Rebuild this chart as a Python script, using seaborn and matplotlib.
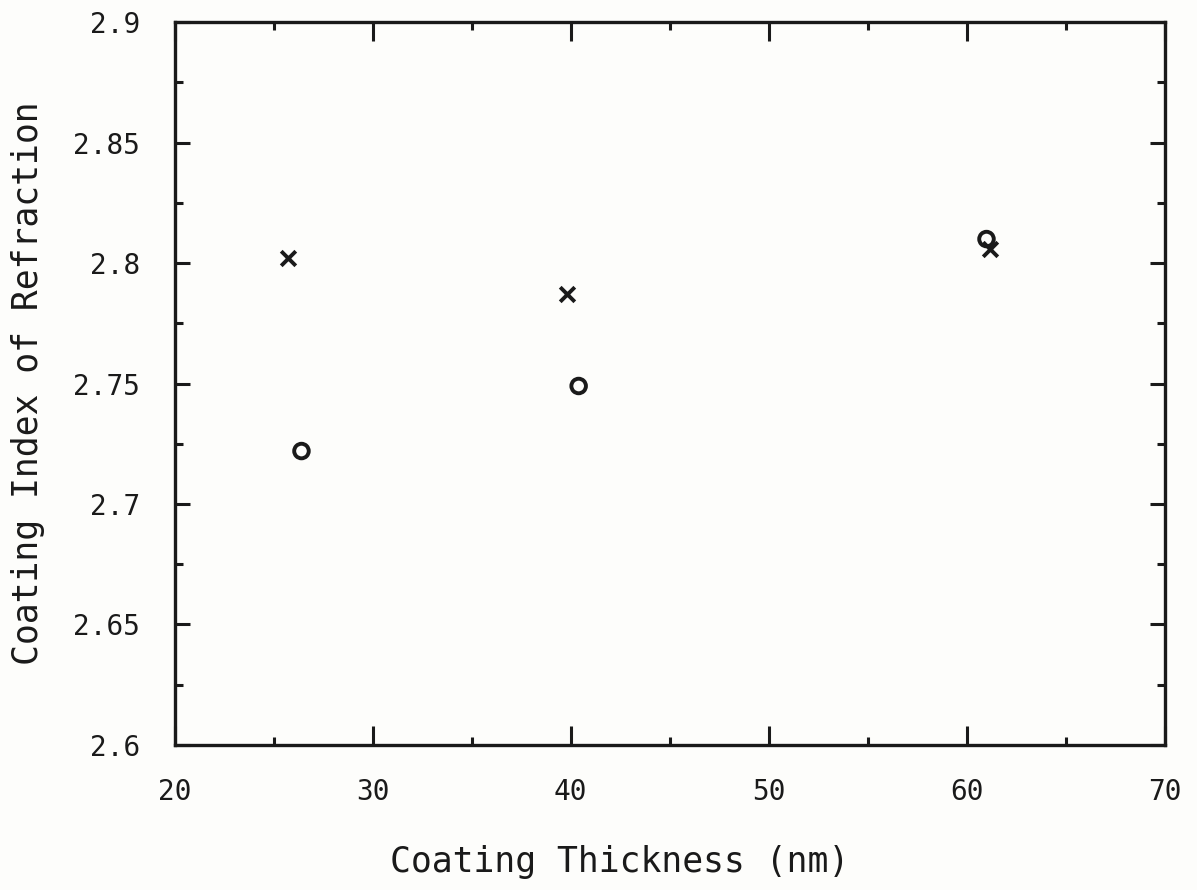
import matplotlib
matplotlib.use("Agg")
import matplotlib.pyplot as plt
import seaborn as sns
import pandas as pd
from matplotlib.ticker import MultipleLocator

# Data
x_series_thickness = [25.7, 39.8, 61.2]
x_series_index = [2.802, 2.787, 2.806]
o_series_thickness = [26.4, 40.4, 61.0]
o_series_index = [2.722, 2.749, 2.810]
x_ticks = [20, 30, 40, 50, 60, 70]
y_ticks = [2.6, 2.65, 2.7, 2.75, 2.8, 2.85, 2.9]
y_tick_labels = ["2.6", "2.65", "2.7", "2.75", "2.8", "2.85", "2.9"]

df = pd.DataFrame({
    "thickness": x_series_thickness + o_series_thickness,
    "index": x_series_index + o_series_index,
    "series": ["x"] * len(x_series_thickness) + ["o"] * len(o_series_thickness),
})

sns.set_theme(style="white")
plt.rcParams["font.family"] = ["DejaVu Sans Mono", "DejaVu Sans"]

ink = "#1a1a1a"
fig = plt.figure(figsize=(11.97, 8.90), dpi=100)
fig.patch.set_facecolor("#fdfdfb")
ax = fig.add_axes([0.146, 0.163, 0.827, 0.812])
ax.set_facecolor("#fdfdfb")

sx = df[df.series == "x"]
so = df[df.series == "o"]
sns.scatterplot(data=sx, x="thickness", y="index", marker="x", s=110,
                color=ink, linewidth=2.8, ax=ax, legend=False)
sns.scatterplot(data=so, x="thickness", y="index", marker="o", s=110,
                facecolor="none", edgecolor=ink, linewidth=2.8, ax=ax, legend=False)

ax.set_xlim(20, 70)
ax.set_ylim(2.6, 2.9)
ax.set_xticks(x_ticks)
ax.set_yticks(y_ticks)
ax.set_yticklabels(y_tick_labels)
ax.xaxis.set_minor_locator(MultipleLocator(5))
ax.yaxis.set_minor_locator(MultipleLocator(0.025))
ax.tick_params(which="both", direction="in", width=2.2, colors=ink,
               top=True, right=True, bottom=True, left=True)
ax.tick_params(axis="x", which="major", length=14, labelsize=20, pad=24)
ax.tick_params(axis="x", which="minor", length=6)
ax.tick_params(axis="y", which="major", length=11, labelsize=20, pad=25)
ax.tick_params(axis="y", which="minor", length=6)
for sp in ax.spines.values():
    sp.set_visible(True)
    sp.set_linewidth(2.4)
    sp.set_color(ink)

ax.set_xlabel("Coating Thickness (nm)", fontsize=25, color=ink)
ax.xaxis.set_label_coords(0.449, -0.138)
ax.set_ylabel("Coating Index of Refraction", fontsize=25, color=ink, labelpad=20)

fig.savefig("out.png", dpi=100, facecolor=fig.get_facecolor())
